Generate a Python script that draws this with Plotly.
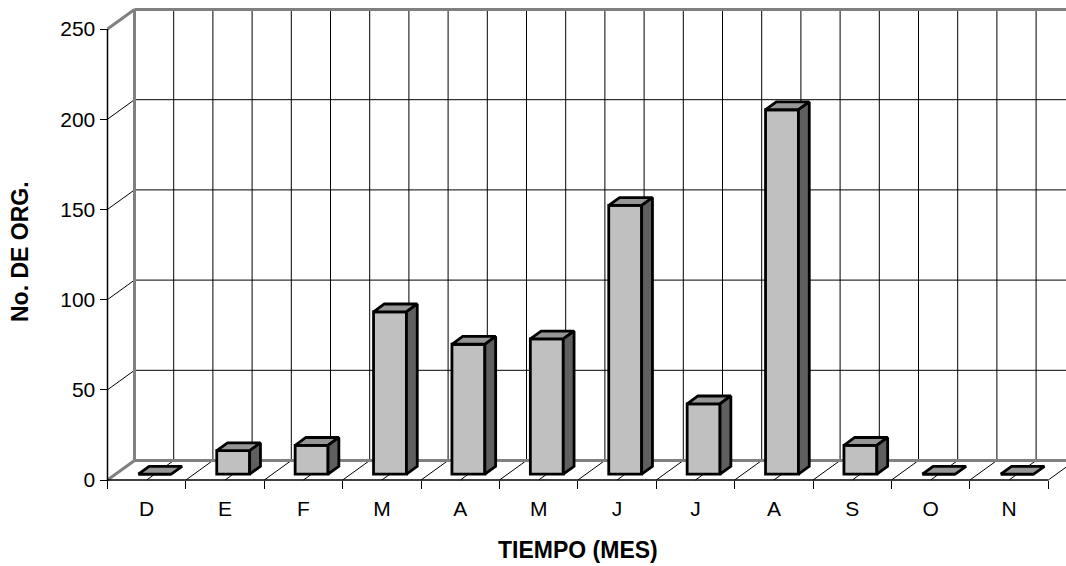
import plotly.graph_objects as go

# ---------------- data ----------------
months = ["D", "E", "F", "M", "A", "M", "J", "J", "A", "S", "O", "N"]
counts = [0, 13, 16, 90, 72, 75, 149, 39, 202, 16, 0, 0]
y_ticks = [0, 50, 100, 150, 200, 250]
y_title = "No. DE ORG."
x_title = "TIEMPO (MES)"

# ---------------- geometry ----------------
W, H = 1066, 566
ML, MR, MT, MB = 90, 0, 0, 66
PW, PH = W - ML - MR, H - MT - MB
X0_PX, Y0_PX = 107.5, 480.0      # front-left corner of the floor (pixels)
CAT_PX = 78.4                    # pixels per category
VAL_PX = 1.804                   # pixels per unit
DEPTH_PX = (27.0, 19.5)          # perspective depth offset (pixels)

DX = DEPTH_PX[0] / CAT_PX
DY = DEPTH_PX[1] / VAL_PX
n = len(months)
vmax = y_ticks[-1]

x_range = [(ML - X0_PX) / CAT_PX, (W - MR - X0_PX) / CAT_PX]
y_range = [(Y0_PX - (H - MB)) / VAL_PX, (Y0_PX - MT) / VAL_PX]

FONT = "Arial, Liberation Sans, sans-serif"
GRAY = "#808080"

# bars sit between depth fractions f0 (front) and f1 (back)
f0, f1 = 0.3, 0.7
half_w = 0.21
centers = [i + 0.5 for i in range(n)]
fx = [c + f0 * DX for c in centers]
base = f0 * DY
sdx = (f1 - f0) * DX
sdy = (f1 - f0) * DY

fig = go.Figure()

# front faces
fig.add_trace(go.Bar(
    x=fx, y=counts, base=base, width=2 * half_w,
    marker=dict(color="#C0C0C0", line=dict(color="black", width=2.8)),
    hoverinfo="skip", showlegend=False,
))

# top faces
tx, ty = [], []
for c, v in zip(fx, counts):
    xl, xr = c - half_w, c + half_w
    yt = base + v
    tx += [xl, xr, xr + sdx, xl + sdx, xl, None]
    ty += [yt, yt, yt + sdy, yt + sdy, yt, None]
fig.add_trace(go.Scatter(
    x=tx, y=ty, mode="lines", fill="toself", fillcolor="#969696",
    line=dict(color="black", width=2.8), hoverinfo="skip", showlegend=False,
))

# side faces
sx, sy = [], []
for c, v in zip(fx, counts):
    if v <= 0:
        continue
    xr = c + half_w
    sx += [xr, xr + sdx, xr + sdx, xr, xr, None]
    sy += [base, base + sdy, base + v + sdy, base + v, base, None]
fig.add_trace(go.Scatter(
    x=sx, y=sy, mode="lines", fill="toself", fillcolor="#5f5f5f",
    line=dict(color="black", width=2.8), hoverinfo="skip", showlegend=False,
))

# ---------------- walls / floor ----------------
shapes = []


def seg(x0, y0, x1, y1, color="black", width=1):
    shapes.append(dict(type="line", xref="x", yref="y", x0=x0, y0=y0, x1=x1, y1=y1,
                       line=dict(color=color, width=width), layer="below"))


# back-wall vertical grid (every half category)
for k in range(1, 2 * n + 1):
    xb = DX + k * 0.5
    seg(xb, DY, xb, vmax + DY)
# floor diagonals
for k in range(1, 2 * n + 1):
    xf = k * 0.5
    seg(xf, 0, xf + DX, DY)
# horizontal grid on back wall + side diagonals
for t in y_ticks[1:-1]:
    seg(DX, t + DY, DX + n + 1, t + DY)
    seg(0, t, DX, t + DY)
# gray frame
seg(0, 0, DX, DY, GRAY, 3)
seg(DX, DY, DX + n + 1, DY, GRAY, 3)
seg(DX, DY, DX, vmax + DY, GRAY, 3)
seg(DX, vmax + DY, DX + n + 1, vmax + DY, GRAY, 3)
seg(0, vmax, DX, vmax + DY, GRAY, 3)
# front axes
seg(0, 0, n, 0, "black", 1.5)
seg(0, 0, 0, vmax, "black", 1.5)


def px_to_paper_x(px):
    return (px - ML) / PW


def py_to_paper_y(py):
    return (H - MB - py) / PH


fig.update_layout(
    width=W, height=H,
    margin=dict(l=ML, r=MR, t=MT, b=MB, pad=0),
    paper_bgcolor="white", plot_bgcolor="white",
    shapes=shapes,
    showlegend=False,
    font=dict(family=FONT, size=21, color="black"),
    xaxis=dict(
        range=x_range, anchor="free", position=py_to_paper_y(Y0_PX),
        tickvals=centers, ticktext=months, ticks="",
        ticklabelstandoff=14,
        showgrid=False, zeroline=False, showline=False,
        tickfont=dict(family=FONT, size=21, color="black"),
        minor=dict(tick0=0, dtick=1, ticks="outside", ticklen=8, tickwidth=1,
                   tickcolor="black", showgrid=False),
    ),
    yaxis=dict(
        range=y_range, anchor="free", position=px_to_paper_x(X0_PX),
        tickvals=y_ticks, ticks="outside", ticklen=8, tickwidth=1, tickcolor="black",
        showgrid=False, zeroline=False, showline=False,
        tickfont=dict(family=FONT, size=21, color="black"),
    ),
    annotations=[
        dict(text="<b>" + x_title + "</b>", xref="paper", yref="paper",
             x=px_to_paper_x(578), y=py_to_paper_y(550), xanchor="center", yanchor="middle",
             showarrow=False, font=dict(family=FONT, size=23, color="black")),
        dict(text="<b>" + y_title + "</b>", xref="paper", yref="paper",
             x=px_to_paper_x(20), y=py_to_paper_y(252), xanchor="center", yanchor="middle",
             textangle=-90, showarrow=False, font=dict(family=FONT, size=23, color="black")),
    ],
)

fig.write_html("out.html")
